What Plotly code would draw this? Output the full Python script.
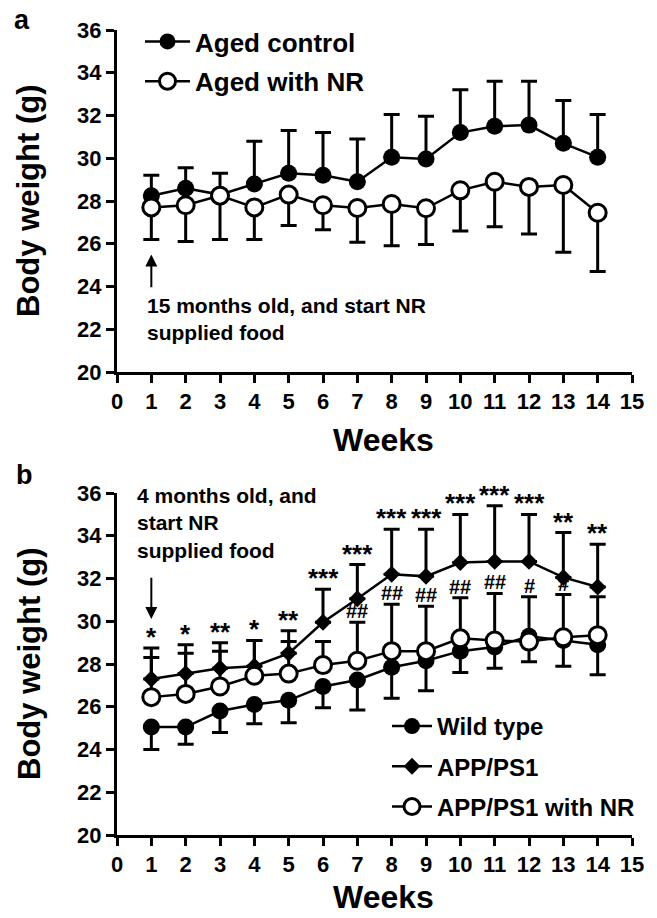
import plotly.graph_objects as go
from plotly.subplots import make_subplots

# ---------------- data ----------------
weeks = list(range(1, 15))

# Panel a
aged_control = [28.25, 28.6, 28.3, 28.8, 29.3, 29.2, 28.9, 30.05, 29.97, 31.2, 31.5, 31.55, 30.7, 30.05]
aged_control_err = [0.95, 0.95, 1.0, 2.0, 2.0, 2.0, 2.0, 2.0, 2.0, 2.0, 2.1, 2.05, 2.0, 2.0]
aged_nr = [27.7, 27.8, 28.25, 27.7, 28.3, 27.8, 27.67, 27.86, 27.66, 28.5, 28.9, 28.66, 28.75, 27.45]
aged_nr_err = [1.5, 1.7, 2.05, 1.5, 1.45, 1.15, 1.6, 1.95, 1.7, 1.9, 2.1, 2.2, 3.15, 2.75]

# Panel b
wild_type = [25.05, 25.05, 25.8, 26.1, 26.3, 26.95, 27.25, 27.85, 28.15, 28.6, 28.8, 29.3, 29.1, 28.9]
wild_type_err = [1.05, 0.8, 1.0, 0.9, 1.05, 1.0, 1.4, 1.45, 1.4, 1.0, 1.0, 1.2, 1.2, 1.4]
app_ps1 = [27.3, 27.55, 27.8, 27.9, 28.5, 29.95, 31.05, 32.2, 32.1, 32.75, 32.8, 32.8, 32.05, 31.6]
app_ps1_err = [1.45, 1.35, 1.2, 1.2, 1.05, 1.55, 1.6, 2.1, 2.2, 2.25, 2.6, 2.2, 2.1, 2.0]
app_ps1_nr = [26.45, 26.6, 26.95, 27.45, 27.55, 27.95, 28.15, 28.6, 28.6, 29.2, 29.1, 29.05, 29.25, 29.35]
app_ps1_nr_err = [1.85, 1.9, 1.65, 1.65, 1.5, 1.1, 1.8, 2.2, 2.1, 1.9, 2.2, 2.1, 2.0, 1.8]

stars = ["*", "*", "**", "*", "**", "***", "***", "***", "***", "***", "***", "***", "**", "**"]
hashes = ["", "", "", "", "", "", "##", "##", "##", "##", "##", "#", "#", ""]

x_ticks = list(range(0, 16))
y_ticks = list(range(20, 37, 2))

# ---------------- layout helpers ----------------
W, H = 657, 918
ML, MR, MT, MB = 117, 25, 30, 83
PW = W - ML - MR
PH = H - MT - MB


def px(xp):
    return (xp - ML) / PW


def py(yp):
    return (H - MB - yp) / PH


FONT = "Liberation Sans"
BLACK = "#000000"

fig = make_subplots(rows=2, cols=1, vertical_spacing=0.15)

fig.update_layout(
    width=W, height=H, autosize=False,
    margin=dict(l=ML, r=MR, t=MT, b=MB),
    paper_bgcolor="white", plot_bgcolor="white",
    font=dict(family=FONT, color=BLACK, size=22, weight="bold"),
    showlegend=True,
)

fig.update_layout(
    yaxis=dict(domain=[py(372), 1.0]),
    yaxis2=dict(domain=[0.0, py(493)]),
)


def add_series(row, y, err, up, name, symbol, fill, legend, msize):
    zeros = [0] * len(err)
    fig.add_trace(go.Scatter(
        x=weeks, y=y, mode="lines+markers", name=name,
        line=dict(color=BLACK, width=2.5),
        marker=dict(symbol=symbol, size=msize, color=fill,
                    line=dict(color=BLACK, width=3 if fill == "white" else 0)),
        error_y=dict(type="data", symmetric=False,
                     array=err if up else zeros,
                     arrayminus=zeros if up else err,
                     color=BLACK, thickness=3, width=8),
        legend=legend, legendgroup=name, cliponaxis=False,
    ), row=row, col=1)


add_series(1, aged_control, aged_control_err, True, "Aged control", "circle", BLACK, "legend", 17)
add_series(1, aged_nr, aged_nr_err, False, "Aged with NR", "circle", "white", "legend", 17)
add_series(2, wild_type, wild_type_err, False, "Wild type", "circle", BLACK, "legend2", 17)
add_series(2, app_ps1, app_ps1_err, True, "APP/PS1", "diamond", BLACK, "legend2", 13)
add_series(2, app_ps1_nr, app_ps1_nr_err, True, "APP/PS1 with NR", "circle", "white", "legend2", 17)

axis_common = dict(showline=True, linewidth=3, linecolor=BLACK, ticks="outside",
                   ticklen=8, tickwidth=3, tickcolor=BLACK, showgrid=False,
                   zeroline=False, tickfont=dict(family=FONT, size=22, weight="bold", color=BLACK))
for r in (1, 2):
    fig.update_xaxes(range=[0, 15], tickvals=x_ticks, row=r, col=1, **axis_common)
    fig.update_yaxes(range=[20, 36], tickvals=y_ticks, row=r, col=1, **axis_common)

fig.update_layout(
    legend=dict(x=px(140), y=py(18), xanchor="left", yanchor="top",
                font=dict(family=FONT, size=26, weight="bold"),
                bgcolor="rgba(0,0,0,0)", itemwidth=45, tracegroupgap=3),
    legend2=dict(x=px(387), y=py(704), xanchor="left", yanchor="top",
                 font=dict(family=FONT, size=24, weight="bold"),
                 bgcolor="rgba(0,0,0,0)", itemwidth=40, tracegroupgap=6),
)

ann = []
# axis titles
for yc in (py(201), py(664)):
    ann.append(dict(text="Body weight (g)", textangle=-90, xref="paper", yref="paper",
                    x=px(29), y=yc, xanchor="center", yanchor="middle", showarrow=False,
                    font=dict(family=FONT, size=31, weight="bold")))
for yc in (py(440), py(897)):
    ann.append(dict(text="Weeks", xref="paper", yref="paper", x=px(383), y=yc,
                    xanchor="center", yanchor="middle",
                    showarrow=False, font=dict(family=FONT, size=32, weight="bold")))
# panel letters
ann.append(dict(text="a", xref="paper", yref="paper", x=px(22), y=py(20),
                xanchor="center", yanchor="middle", showarrow=False,
                font=dict(family=FONT, size=27, weight="bold")))
ann.append(dict(text="b", xref="paper", yref="paper", x=px(24), y=py(475),
                xanchor="center", yanchor="middle", showarrow=False,
                font=dict(family=FONT, size=27, weight="bold")))
# notes
ann.append(dict(text="15 months old, and start NR<br>supplied food", xref="paper", yref="paper",
                x=px(145), y=py(319), xanchor="left", yanchor="middle", align="left",
                showarrow=False, font=dict(family=FONT, size=21, weight="bold")))
ann.append(dict(text="4 months old, and<br>start NR<br>supplied food", xref="paper", yref="paper",
                x=px(135), y=py(523), xanchor="left", yanchor="middle", align="left",
                showarrow=False, font=dict(family=FONT, size=21, weight="bold")))
# arrows
ann.append(dict(x=1, y=25.5, ax=1, ay=23.9, xref="x", yref="y", axref="x", ayref="y",
                text="", showarrow=True, arrowhead=2, arrowsize=1.2, arrowwidth=2, arrowcolor=BLACK))
ann.append(dict(x=1, y=30.1, ax=1, ay=32.1, xref="x2", yref="y2", axref="x2", ayref="y2",
                text="", showarrow=True, arrowhead=2, arrowsize=1.2, arrowwidth=2, arrowcolor=BLACK))
# significance marks
for wk, s, v, e in zip(weeks, stars, app_ps1, app_ps1_err):
    if s:
        ann.append(dict(text=s, x=wk, y=v + e, xref="x2", yref="y2",
                        xanchor="center", yanchor="bottom",
                        showarrow=False, yshift=-6,
                        font=dict(family=FONT, size=26, weight="bold")))
for wk, s, v, e in zip(weeks, hashes, app_ps1_nr, app_ps1_nr_err):
    if s:
        ann.append(dict(text=s, x=wk, y=v + e, xref="x2", yref="y2",
                        xanchor="center", yanchor="bottom",
                        showarrow=False, yshift=-2,
                        font=dict(family=FONT, size=20, weight="bold")))

fig.update_layout(annotations=ann)

fig.write_html("out.html",
               config={"displayModeBar": False},
               post_script="document.body.style.margin='0px';document.body.style.padding='0px';")
